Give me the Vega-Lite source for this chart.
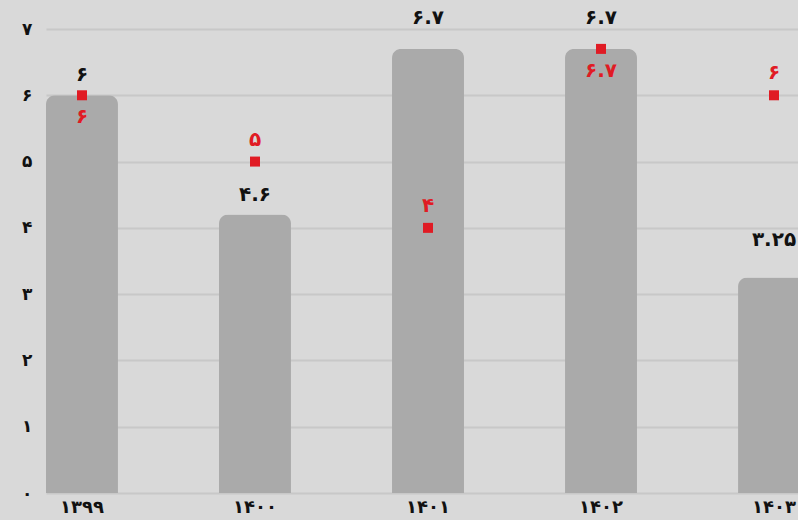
{
  "$schema": "https://vega.github.io/schema/vega-lite/v6.json",
  "autosize": "none",
  "width": 764,
  "height": 464,
  "padding": {"left": 46, "top": 29, "right": 0, "bottom": 27},
  "background": "#d9d9d9",
  "config": {
    "view": {"stroke": null},
    "font": "DejaVu Sans",
    "axis": {"labelFont": "DejaVu Sans", "labelFontWeight": "bold", "labelColor": "#111111", "labelFontSize": 17}
  },
  "data": {
    "values": [
      {"year": "۱۳۹۹", "value": 6, "label": "۶", "point": 6, "plabel": "۶"},
      {"year": "۱۴۰۰", "value": 4.2, "label": "۴.۶", "point": 5, "plabel": "۵"},
      {"year": "۱۴۰۱", "value": 6.7, "label": "۶.۷", "point": 4, "plabel": "۴"},
      {"year": "۱۴۰۲", "value": 6.7, "label": "۶.۷", "point": 6.7, "plabel": "۶.۷"},
      {"year": "۱۴۰۳", "value": 3.25, "label": "۳.۲۵", "point": 6, "plabel": "۶"}
    ]
  },
  "encoding": {
    "x": {
      "field": "year", "type": "nominal", "sort": null,
      "scale": {"paddingInner": 0.584, "paddingOuter": 0},
      "axis": {"title": null, "ticks": false, "domain": false, "labelAngle": 0, "labelPadding": 5, "labelFontSize": 18}
    }
  },
  "layer": [
    {
      "mark": {"type": "bar", "color": "#aaaaaa", "cornerRadiusTopLeft": 9, "cornerRadiusTopRight": 9},
      "encoding": {
        "y": {
          "field": "value", "type": "quantitative",
          "scale": {"domain": [0, 7], "nice": false},
          "axis": {
            "title": null, "ticks": false, "domain": false,
            "values": [0, 1, 2, 3, 4, 5, 6, 7],
            "gridColor": "#c8c8c8", "gridWidth": 2,
            "labelPadding": 14,
            "labelExpr": "['۰','۱','۲','۳','۴','۵','۶','۷'][datum.value]"
          }
        }
      }
    },
    {
      "transform": [{"filter": "datum.year == '۱۳۹۹' || datum.year == '۱۴۰۰'"}],
      "mark": {"type": "text", "fontSize": 20, "fontWeight": "bold", "color": "#111111", "dy": -20, "baseline": "middle"},
      "encoding": {"y": {"field": "value", "type": "quantitative"}, "text": {"field": "label"}}
    },
    {
      "transform": [{"filter": "datum.year == '۱۴۰۱' || datum.year == '۱۴۰۲'"}],
      "mark": {"type": "text", "fontSize": 20, "fontWeight": "bold", "color": "#111111", "dy": -31, "baseline": "middle"},
      "encoding": {"y": {"field": "value", "type": "quantitative"}, "text": {"field": "label"}}
    },
    {
      "transform": [{"filter": "datum.year == '۱۴۰۳'"}],
      "mark": {"type": "text", "fontSize": 20, "fontWeight": "bold", "color": "#111111", "dy": -38, "baseline": "middle"},
      "encoding": {"y": {"field": "value", "type": "quantitative"}, "text": {"field": "label"}}
    },
    {
      "mark": {"type": "point", "shape": "square", "filled": true, "color": "#e01b24", "size": 100, "opacity": 1},
      "encoding": {"y": {"field": "point", "type": "quantitative"}}
    },
    {
      "transform": [{"filter": "datum.year == '۱۴۰۰' || datum.year == '۱۴۰۱' || datum.year == '۱۴۰۳'"}],
      "mark": {"type": "text", "fontSize": 20, "fontWeight": "bold", "color": "#e01b24", "dy": -22, "baseline": "middle"},
      "encoding": {"y": {"field": "point", "type": "quantitative"}, "text": {"field": "plabel"}}
    },
    {
      "transform": [{"filter": "datum.year == '۱۳۹۹' || datum.year == '۱۴۰۲'"}],
      "mark": {"type": "text", "fontSize": 20, "fontWeight": "bold", "color": "#e01b24", "dy": 22, "baseline": "middle"},
      "encoding": {"y": {"field": "point", "type": "quantitative"}, "text": {"field": "plabel"}}
    }
  ]
}
